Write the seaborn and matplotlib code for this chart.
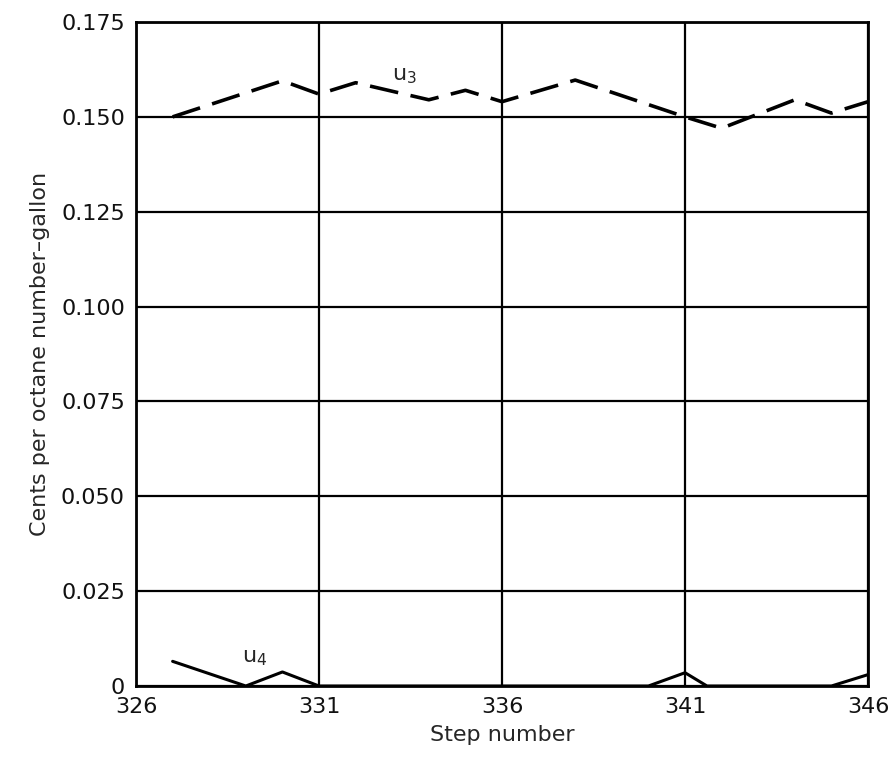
import pandas as pd
import matplotlib.pyplot as plt
import seaborn as sns

sns.set_style("white")
plt.rcParams["font.family"] = ["DejaVu Sans"]
plt.rcParams["mathtext.default"] = "regular"

# values
u3_steps = [327, 330, 331, 332, 334, 335, 336, 338, 341, 342, 344, 345, 346]
u3_vals = [0.150, 0.1595, 0.156, 0.159, 0.1545, 0.157, 0.154, 0.1597, 0.150, 0.147, 0.1545, 0.151, 0.154]

u4_steps = [327, 329, 330, 331, 340, 341, 341.6, 345, 346]
u4_vals = [0.0065, 0.0, 0.0037, 0.0, 0.0, 0.0035, 0.0, 0.0, 0.003]

x_ticks = [326, 331, 336, 341, 346]
y_ticks = [0, 0.025, 0.050, 0.075, 0.100, 0.125, 0.150, 0.175]
y_labels = ["0", "0.025", "0.050", "0.075", "0.100", "0.125", "0.150", "0.175"]

df3 = pd.DataFrame({"step": u3_steps, "cost": u3_vals})
df4 = pd.DataFrame({"step": u4_steps, "cost": u4_vals})

fig = plt.figure(figsize=(8.96, 7.67), dpi=100)
ax = fig.add_axes([0.1518, 0.1056, 0.817, 0.8657])

sns.lineplot(data=df3, x="step", y="cost", ax=ax, color="black", linewidth=2.6)
ax.lines[-1].set_dashes((8, 3.5))
sns.lineplot(data=df4, x="step", y="cost", ax=ax, color="black", linewidth=2.2)

ax.set_xlim(326, 346)
ax.set_ylim(0, 0.175)
ax.set_xticks(x_ticks)
ax.set_xticklabels([str(t) for t in x_ticks])
ax.set_yticks(y_ticks)
ax.set_yticklabels(y_labels)
ax.tick_params(length=0, labelsize=16, pad=8, colors="#111111")

ax.grid(True, color="black", linewidth=1.6)
for s in ax.spines.values():
    s.set_color("black")
    s.set_linewidth(2)

ax.set_xlabel("Step number", fontsize=16, labelpad=6)
ax.set_ylabel("Cents per octane number\u2013gallon", fontsize=16, labelpad=8)

ax.text(333.0, 0.1595, "u$_3$", fontsize=16)
ax.text(328.9, 0.0062, "u$_4$", fontsize=16)

fig.savefig("out.png", dpi=100)
